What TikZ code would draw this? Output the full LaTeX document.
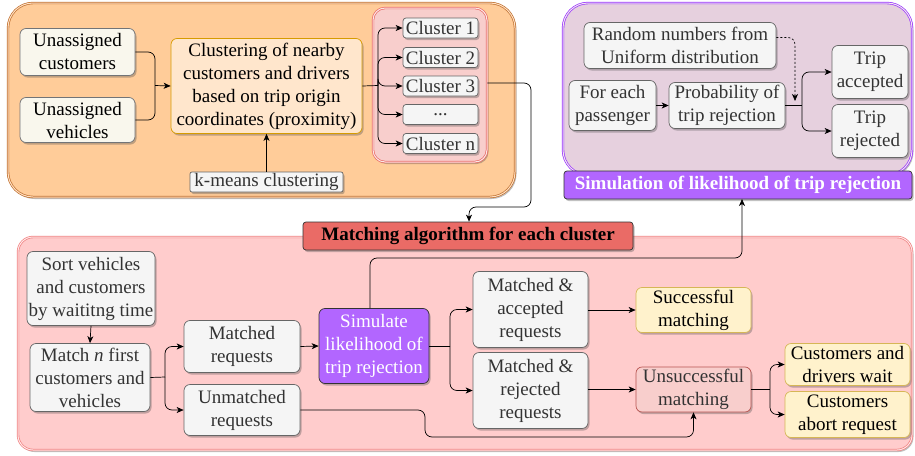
\documentclass[tikz,border=0pt]{standalone}
\usepackage{fontspec}
\setmainfont{Liberation Serif}
\usetikzlibrary{shadows,arrows.meta,calc}
\definecolor{orfill}{HTML}{FFCC99}
\definecolor{ordraw}{HTML}{C07030}
\definecolor{offwhite}{HTML}{F9F7ED}
\definecolor{offdraw}{HTML}{36393D}
\definecolor{lorange}{HTML}{FFE6CC}
\definecolor{lordraw}{HTML}{D79B00}
\definecolor{pinkfill}{HTML}{F8CECC}
\definecolor{pinkdraw}{HTML}{EA6B66}
\definecolor{grayfill}{HTML}{F5F5F5}
\definecolor{graydraw}{HTML}{666666}
\definecolor{graytext}{HTML}{333333}
\definecolor{purfill}{HTML}{E6D0DE}
\definecolor{purdraw}{HTML}{9933FF}
\definecolor{purbar}{HTML}{B266FF}
\definecolor{botfill}{HTML}{FFCCCC}
\definecolor{botdraw}{HTML}{F08080}
\definecolor{yelfill}{HTML}{FFF2CC}
\definecolor{yeldraw}{HTML}{D6B656}
\definecolor{reddraw}{HTML}{B85450}
\begin{document}
\begin{tikzpicture}[x=1pt,y=-1pt,
  every node/.style={inner sep=0pt,align=center,font=\fontsize{19}{23}\selectfont},
  shad/.style={drop shadow={shadow xshift=1.5pt,shadow yshift=-2pt,opacity=0.35,fill=black!70}},
  base/.style={rectangle,rounded corners=6pt,line width=0.7pt,shad},
  gbox/.style={base,draw=graydraw,fill=grayfill,text=graytext},
  obox/.style={base,draw=offdraw!70,fill=offwhite,text=black},
  cont/.style={rectangle,line width=0.7pt,double distance=1pt,shad},
  lbl/.style={rectangle,rounded corners=3pt,line width=0.7pt,draw=black!80,shad,font=\fontsize{19}{23}\selectfont\bfseries},
  conn/.style={line width=0.7pt,draw=black,rounded corners=7pt,-{Stealth[length=7pt,width=6pt,inset=2pt]}},
  plain/.style={line width=0.7pt,draw=black,rounded corners=7pt}
]
\useasboundingbox (0,0) rectangle (915,455);

% ---------- top left: clustering ----------
\node[cont,draw=ordraw,double=orfill!60!white,fill=orfill,rounded corners=25pt,minimum width=507pt,minimum height=194pt] (ocont) at (261.5,100) {};
\node[obox,minimum width=115pt,minimum height=47pt] (uac) at (77.5,52) {Unassigned\\customers};
\node[obox,minimum width=115pt,minimum height=45pt] (uav) at (77.5,120) {Unassigned\\vehicles};
\node[base,draw=lordraw,fill=lorange,minimum width=191pt,minimum height=95pt] (clus) at (266.5,86) {Clustering of nearby\\customers and drivers\\based on trip origin\\coordinates (proximity)};
\node[cont,draw=pinkdraw,double=pinkfill!50!white,fill=pinkfill,rounded corners=12pt,minimum width=114pt,minimum height=154pt] (ccont) at (430,85) {};
\node[gbox,rounded corners=3pt,minimum width=75pt,minimum height=20pt] (c1) at (440.5,28) {Cluster 1};
\node[gbox,rounded corners=3pt,minimum width=75pt,minimum height=20pt] (c2) at (440.5,57.5) {Cluster 2};
\node[gbox,rounded corners=3pt,minimum width=75pt,minimum height=20pt] (c3) at (440.5,86) {Cluster 3};
\node[gbox,rounded corners=3pt,minimum width=75pt,minimum height=20pt] (c4) at (440.5,114.5) {...};
\node[gbox,rounded corners=3pt,minimum width=75pt,minimum height=20pt] (c5) at (440.5,143.5) {Cluster n};
\node[gbox,rounded corners=2pt,minimum width=153pt,minimum height=20pt] (km) at (266.5,182) {k-means clustering};

\coordinate (jA) at (155,85.5);
\draw[plain] (uac.east) -- (jA |- uac.east) -- (jA);
\draw[plain] (uav.east) -- (jA |- uav.east) -- (jA);
\draw[conn] (jA) -- (clus.west);
\draw[conn] (km.north) -- (clus.south);
\coordinate (jB) at (378,85.5);
\draw[plain] (clus.east) -- (jB);
\foreach \c in {c1,c2,c3,c4,c5}{\draw[conn] (jB) -- (jB |- \c.west) -- (\c.west);}

% ---------- top right: simulation ----------
\node[cont,draw=purdraw,double=purfill!50!white,fill=purfill,rounded corners=25pt,minimum width=349pt,minimum height=172pt] (pcont) at (737.5,89) {};
\node[lbl,fill=purbar,text=white,minimum width=348pt,minimum height=28pt] (pbar) at (738,185) {Simulation of likelihood of trip rejection};
\node[gbox,minimum width=192pt,minimum height=46pt] (rnd) at (680,45.5) {Random numbers from\\Uniform distribution};
\node[gbox,minimum width=87pt,minimum height=50pt] (fep) at (612.5,105.5) {For each\\passenger};
\node[gbox,minimum width=116pt,minimum height=46pt] (prob) at (727,105.5) {Probability of\\trip rejection};
\node[gbox,minimum width=76pt,minimum height=53pt] (tacc) at (870,72) {Trip\\accepted};
\node[gbox,minimum width=76pt,minimum height=53pt] (trej) at (870,131) {Trip\\rejected};

\draw[conn] (fep.east) -- (prob.west);
\coordinate (jC) at (802,105.5);
\draw[plain] (prob.east) -- (jC);
\draw[conn] (jC) -- (jC |- tacc.west) -- (tacc.west);
\draw[conn] (jC) -- (jC |- trej.west) -- (trej.west);
\coordinate (dotend) at (795,101);
\draw[conn,dashed,dash pattern=on 2pt off 2pt] ($(rnd.east)+(0,-8)$) -- ($(dotend |- rnd.east)+(0,-8)$) -- (dotend);

% ---------- bottom: matching ----------
\node[cont,draw=botdraw,double=botfill!50!white,fill=botfill,rounded corners=15pt,minimum width=894pt,minimum height=213pt] (bcont) at (465,343.5) {};
\node[lbl,fill=pinkdraw,text=black,minimum width=330pt,minimum height=28pt] (mlab) at (468,236) {Matching algorithm for each cluster};

\node[gbox,minimum width=128pt,minimum height=74pt] (sort) at (91,288.5) {Sort vehicles\\and customers\\by waititng time};
\node[gbox,minimum width=120pt,minimum height=68pt] (match) at (90,377.5) {Match \textit{n} first\\customers and\\vehicles};
\node[gbox,minimum width=116pt,minimum height=52pt] (mreq) at (242,346.5) {Matched\\requests};
\node[gbox,minimum width=116pt,minimum height=51pt] (ureq) at (242,410) {Unmatched\\requests};
\node[base,draw=graytext,fill=purbar,text=white,minimum width=110pt,minimum height=75pt] (sim) at (374,346) {Simulate\\likelihood of\\trip rejection};
\node[gbox,minimum width=115pt,minimum height=76pt] (macc) at (530.5,309.5) {Matched \&\\accepted\\requests};
\node[gbox,minimum width=115pt,minimum height=76pt] (mrej) at (530.5,390.5) {Matched \&\\rejected\\requests};
\node[base,draw=yeldraw,fill=yelfill,minimum width=115pt,minimum height=45pt] (succ) at (693.5,310) {Successful\\matching};
\node[base,draw=reddraw,fill=pinkfill,text=graytext,minimum width=115pt,minimum height=45pt] (unsucc) at (693.5,389.5) {Unsuccessful\\matching};
\node[base,draw=yeldraw,fill=yelfill,minimum width=125pt,minimum height=42pt] (cwait) at (847.5,364.5) {Customers and\\drivers wait};
\node[base,draw=yeldraw,fill=yelfill,minimum width=125pt,minimum height=46pt] (cabort) at (847.5,414.5) {Customers\\abort request};

\draw[conn] (sort.south) -- (match.north);
\coordinate (jD) at (165,377);
\draw[plain] (match.east) -- (jD);
\draw[conn] (jD) -- (jD |- mreq.west) -- (mreq.west);
\draw[conn] (jD) -- (jD |- ureq.west) -- (ureq.west);
\draw[conn] (mreq.east) -- (sim.west);
\coordinate (jE) at (450,346);
\draw[plain] (sim.east) -- (jE);
\draw[conn] (jE) -- (jE |- macc.west) -- (macc.west);
\draw[conn] (jE) -- (jE |- mrej.west) -- (mrej.west);
\draw[conn] (macc.east |- succ.west) -- (succ.west);
\draw[conn] (mrej.east |- unsucc.west) -- (unsucc.west);
\coordinate (jF) at (770,389.5);
\draw[plain] (unsucc.east) -- (jF);
\draw[conn] (jF) -- (jF |- cwait.west) -- (cwait.west);
\draw[conn] (jF) -- (jF |- cabort.west) -- (cabort.west);
\draw[conn] (ureq.east) -- (425,410) -- (425,437) -- (unsucc.south |- 0,437) -- (unsucc.south);
\draw[conn] ($(sim.north)+(-4,0)$) -- (370,258) -- (742,258) -- (742,199);
\draw[conn] (ccont.east |- 0,83) -- (531,83) -- (531,207) -- (469,207) -- (mlab.north -| 469,0);
\end{tikzpicture}
\end{document}
